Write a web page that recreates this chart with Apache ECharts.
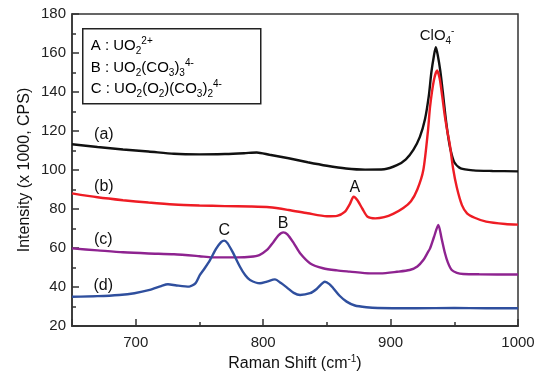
<!DOCTYPE html>
<html><head><meta charset="utf-8">
<script src="https://cdn.jsdelivr.net/npm/echarts@6/dist/echarts.min.js"></script>
<style>html,body{margin:0;padding:0;background:#fff}#c{width:543px;height:375px}</style>
</head><body><div id="c"></div>
<script>
// Data (Raman shift in cm^-1, intensity x1000 CPS)
const xA = [650,670,690,710,730,750,770,785,795,805,820,835,850,865,880,895,905,912,918,923,927,930,932,934,935.5,937,939,941,943,945,947,950,955,965,980,1000];
const yA = [113.2,111.8,110.5,109.5,108.3,108.0,108.2,108.6,109.0,107.8,106.0,104.0,102.2,100.8,100.2,100.4,102.5,105.5,110.5,117.0,126.0,138.0,150.0,158.5,163.0,159.0,151.0,140.0,128.0,118.0,110.5,104.0,100.8,99.8,99.5,99.3];
const xB = [650,670,690,710,730,750,770,790,805,820,835,850,858,864,868,871,874,878,882,888,895,902,910,916,921,925.7,929.4,931,934,936.5,938.5,940.5,942.5,944.5,946.5,949,952,956,960,966,975,990,1000];
const yB = [88.0,86.0,84.5,83.3,82.3,81.8,81.5,81.3,80.9,79.5,77.8,76.3,76.5,78.5,82.5,86.3,84.5,80.0,76.0,75.2,75.8,77.5,80.5,84.0,90.0,100.0,120.5,132.5,146.0,151.0,147.0,138.0,128.0,120.0,113.0,101.0,91.0,82.0,77.8,75.5,73.5,72.3,72.0];
const xC = [650,670,690,710,730,750,760,780,790,797,803,808,812,815.8,819,824,829,837,847,858,868,884,892,905,915,921,925.7,929,931,934,937.5,940,942.7,945,948,952,957,970,1000];
const yC = [59.8,58.8,57.8,57.2,56.8,55.8,55.2,55.2,55.5,56.4,59.0,63.0,66.5,68.0,67.0,62.5,57.3,52.1,49.6,48.5,47.9,47.0,47.0,47.8,48.7,50.5,53.8,57.5,59.8,65.5,71.8,65.0,57.3,52.5,48.7,47.3,46.7,46.5,46.4];
const xD = [650,670,687,699,711,720,725.3,732,742,747,750.4,754,758.3,763,767,769.5,772,776,781.8,786,789.7,797.5,803,809.3,814,818.5,824,829,836.8,842,848.5,852,855,860,865.5,872,881,890,920,950,975,1000];
const yD = [35.0,35.3,35.9,36.8,38.5,40.5,41.4,40.8,40.2,42.0,46.2,49.5,53.8,59.5,63.0,63.8,62.5,58.0,50.4,46.0,43.6,41.9,42.8,43.9,42.0,39.8,37.0,35.9,36.8,39.0,42.7,41.5,39.4,35.5,32.5,30.5,29.6,29.2,29.1,29.2,29.1,29.1];
const curveNames = ['(a)','(b)','(c)','(d)'];
const curveLabelPos = [[675,118.0],[675,91.6],[674.5,64.5],[674.5,40.5]];
const peakLabels = [
  {text:'{n|ClO}{sb|4}{sp|-}', at:[936.5,168.7], series:0},
  {text:'A', at:[872,91.0], series:1},
  {text:'B', at:[815.6,72.5], series:2},
  {text:'C', at:[769.5,69.0], series:3}
];
const xRange = [650,1000];
const xMinorStep = 50;
const yTicks = [20,180,20];
const colors = ['#111111','#ee1c24','#8e2390','#2f4f9e'];

const FONT = '"Liberation Sans", Arial, sans-serif';
const pair = (xs, ys) => xs.map((x,i)=>[x, ys[i]]);
const seriesData = [pair(xA,yA), pair(xB,yB), pair(xC,yC), pair(xD,yD)];

const richSub = {
  n:{fontSize:15, fontFamily:FONT, color:'#111', lineHeight:20, verticalAlign:'middle'},
  sb:{fontSize:10, fontFamily:FONT, color:'#111', lineHeight:20, verticalAlign:'bottom'},
  sp:{fontSize:10, fontFamily:FONT, color:'#111', lineHeight:20, verticalAlign:'top'}
};

const series = seriesData.map((d,i)=>{
  const mp = [];
  mp.push({coord:curveLabelPos[i], label:{formatter:curveNames[i]}});
  peakLabels.filter(p=>p.series===i).forEach(p=>mp.push({coord:p.at, label:{formatter:p.text}}));
  return {
    type:'line', data:d, showSymbol:false, smooth:0.25,
    lineStyle:{color:colors[i], width:2.4}, itemStyle:{color:colors[i]},
    xAxisIndex:0, yAxisIndex:0, z:3+i, animation:false,
    markPoint:{symbol:'circle', symbolSize:0, silent:true, animation:false,
      label:{show:true, position:'inside', color:'#111', fontSize:16, fontFamily:FONT, rich:richSub},
      data:mp}
  };
});

const chart = echarts.init(document.getElementById('c'), null, {renderer:'canvas'});
chart.setOption({
  backgroundColor:'#fff',
  animation:false,
  grid:{left:72, right:25, top:14, bottom:49, show:true, borderColor:'#333', borderWidth:1.5,
        backgroundColor:'transparent', containLabel:false, outerBoundsMode:'none'},
  xAxis:[{
    type:'value', min:xRange[0], max:xRange[1], interval:xMinorStep,
    axisLine:{lineStyle:{color:'#333', width:1.5}},
    axisTick:{inside:true, length:4, lineStyle:{color:'#333', width:1.5}},
    axisLabel:{color:'#222', fontSize:15, fontFamily:FONT, margin:9,
      formatter:v=> (v%100===0) ? String(v) : ''},
    splitLine:{show:false},
    name:'{n|Raman Shift (cm}{sp|-1}{n|)}', nameLocation:'middle', nameGap:28, nameMoveOverlap:false,
    nameTextStyle:{color:'#111', fontSize:16, fontFamily:FONT,
      rich:{n:{fontSize:16,fontFamily:FONT,color:'#111',lineHeight:20,verticalAlign:'middle'},
            sp:{fontSize:10,fontFamily:FONT,color:'#111',lineHeight:20,verticalAlign:'top'}}}
  },{
    type:'value', min:xRange[0], max:xRange[1], splitNumber:3, position:'bottom', gridIndex:0,
    axisLine:{show:true, lineStyle:{color:'#333', width:1.5}},
    axisTick:{show:true, inside:true, length:7, lineStyle:{color:'#333', width:1.5}},
    axisLabel:{show:false}, splitLine:{show:false}
  }],
  yAxis:[{
    type:'value', min:yTicks[0], max:yTicks[1], interval:yTicks[2],
    axisLine:{lineStyle:{color:'#333', width:1.5}},
    axisTick:{inside:true, length:7, lineStyle:{color:'#333', width:1.5}},
    minorTick:{show:true, splitNumber:2, length:4, lineStyle:{color:'#333', width:1.5}},
    axisLabel:{color:'#222', fontSize:15, fontFamily:FONT, margin:6},
    splitLine:{show:false},
    name:'Intensity (x 1000, CPS)', nameLocation:'middle', nameGap:39, nameMoveOverlap:false,
    nameTextStyle:{color:'#111', fontSize:16, fontFamily:FONT}
  }],
  series: series,
  graphic:[{
    type:'group', left:82, top:28, children:[
      {type:'rect', shape:{x:0,y:0,width:178,height:75}, style:{fill:'#fff', stroke:'#222', lineWidth:1.5}},
      {type:'text', x:8, y:7, style:{text:'{n|A : UO}{sb|2}{sp|2+}', rich:richSub}},
      {type:'text', x:8, y:29, style:{text:'{n|B : UO}{sb|2}{n|(CO}{sb|3}{n|)}{sb|3}{sp|4-}', rich:richSub}},
      {type:'text', x:8, y:50, style:{text:'{n|C : UO}{sb|2}{n|(O}{sb|2}{n|)(CO}{sb|3}{n|)}{sb|2}{sp|4-}', rich:richSub}}
    ]
  }]
});
</script></body></html>
